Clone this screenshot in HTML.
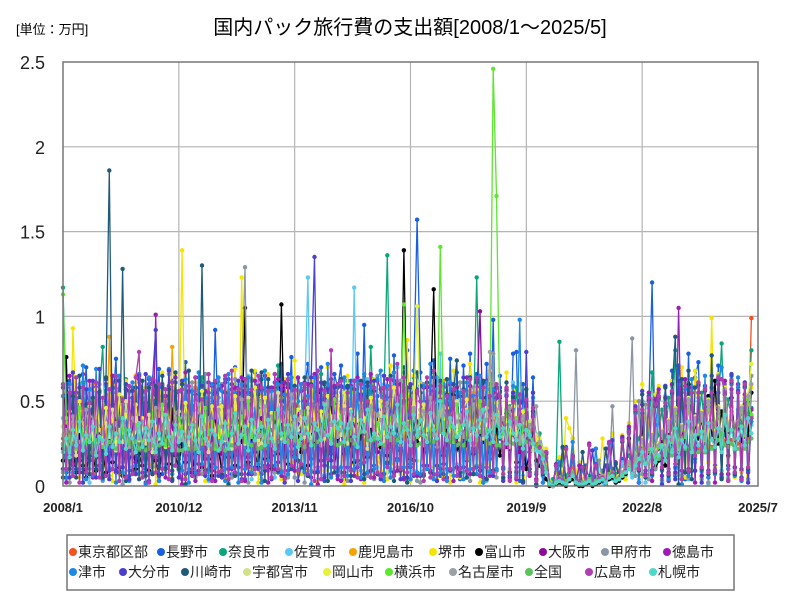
<!DOCTYPE html>
<html><head><meta charset="utf-8">
<style>
body{margin:0;background:#fff;}
svg text{font-family:"Liberation Sans","Noto Sans CJK JP",sans-serif;}
</style></head>
<body>
<svg id="chart" width="800" height="600" viewBox="0 0 800 600" xmlns="http://www.w3.org/2000/svg">
<rect x="0" y="0" width="800" height="600" fill="#fff"/>
<text x="16" y="34" font-size="13">[単位：万円]</text>
<text x="410" y="34" font-size="20" text-anchor="middle">国内パック旅行費の支出額[2008/1～2025/5]</text>
<g id="grid"></g>
<g id="series"></g>
<rect x="63" y="62" width="695" height="424" fill="none" stroke="#777" stroke-width="1.5"/>
<g id="axes"></g>
<rect x="67" y="535" width="667" height="55" fill="#fff" stroke="#777" stroke-width="1.5"/>
<g id="legend"></g>
</svg>
<script>
const UNIT = 0.01; // values below are in 0.01万円 (100円)
const yTicks = [0, 0.5, 1, 1.5, 2, 2.5];
const yTickLabels = ["0", "0.5", "1", "1.5", "2", "2.5"];
const xTickMonths = [0, 35, 70, 105, 140, 175, 210];
const xTickLabels = ["2008/1", "2010/12", "2013/11", "2016/10", "2019/9", "2022/8", "2025/7"];
const seriesNames = ["東京都区部","長野市","奈良市","佐賀市","鹿児島市","堺市","富山市","大阪市","甲府市","徳島市","津市","大分市","川崎市","宇都宮市","岡山市","横浜市","名古屋市","全国","広島市","札幌市"];
const seriesColors = ["#f4511e","#1a5fe0","#0aa67a","#5bc8f5","#f5a300","#f5e400","#000000","#8b0a9a","#8a96a3","#9b1fb5","#1e88e5","#4a3fcf","#1f5a7a","#d4e08a","#e8f03a","#5ce62e","#9aa0a6","#5cc25c","#b03fb0","#4fd8c8"];

const tokyo = [28,31,25,33,30,27,35,40,29,26,30,24, 27,30,26,32,29,25,34,38,28,25,29,23, 26,29,27,31,28,26,33,37,27,24,28,25, 25,28,22,24,27,26,32,36,28,25,27,24, 27,30,26,31,29,27,34,39,28,26,29,25, 28,31,27,33,30,28,35,41,29,27,30,26, 29,30,28,32,31,28,36,42,30,27,31,26, 30,32,29,34,31,29,37,43,31,28,32,27, 29,31,28,33,32,30,36,42,30,28,31,26, 30,33,29,35,32,30,38,44,31,29,33,27, 29,32,28,34,31,29,37,43,30,28,32,26, 28,31,27,33,30,28,36,41,29,27,30,25, 24,22,12,2,1,4,8,6,5,9,11,4, 3,2,5,4,2,3,6,7,3,8,10,6, 5,7,9,10,8,11,14,18,15,17,20,14, 16,18,20,22,19,21,25,30,24,23,26,20, 22,24,21,26,23,25,29,33,26,24,27,22, 25,27,24,28,99];
const nagano = [35,8,62,12,51,5,45,70,18,60,10,43, 15,57,9,48,75,11,40,60,6,52,17,66, 44,10,63,8,24,69,7,48,19,62,12,55, 30,73,8,41,6,57,64,9,45,13,92,31, 11,63,36,7,70,18,59,4,55,9,67,46, 63,12,49,5,61,8,72,17,35,76,5,40, 9,58,72,16,64,11,70,3,47,19,66,58, 71,4,55,62,10,78,13,95,7,59,12,53, 8,65,31,9,77,16,62,5,80,13,68,157, 67,12,50,9,74,61,6,58,10,75,22,67, 4,71,15,78,7,66,20,2,72,16,98,9, 65,11,56,9,78,79,3,60,13,8,64,7, 20,6,9,1,0,2,15,4,23,6,28,2, 1,0,12,3,1,22,4,3,2,25,6,3, 4,16,8,32,9,45,2,50,18,46,120,11, 45,3,59,10,68,6,71,55,4,78,9,64, 73,6,48,2,62,12,71,5,57,7,65,11, 58,9,52,4,46];
const nara = [117,45,28,52,33,20,61,38,24,47,30,55, 82,26,40,19,58,35,29,63,22,44,37,31, 27,49,33,60,21,41,36,24,57,30,45,19, 38,23,55,31,42,27,64,20,48,35,29,52, 24,46,30,39,21,58,33,44,26,62,37,28, 50,32,25,47,36,71,22,40,30,55,27,43, 31,57,38,24,49,29,66,35,43,21,52,34, 45,27,62,33,40,25,55,37,29,82,32,41, 28,53,136,30,44,26,59,38,47,23,64,35, 42,30,49,25,67,36,33,58,27,44,39,21, 34,61,28,45,37,123,30,52,24,41,48,32, 55,26,39,47,31,58,23,42,35,29,44,30, 31,22,14,2,4,8,85,12,6,10,14,5, 3,2,4,6,3,5,8,9,4,12,10,7, 9,12,15,18,10,22,28,35,20,31,67,25, 30,45,26,52,33,80,28,49,37,60,31,42, 38,55,29,47,62,35,44,84,30,51,40,33, 45,36,58,42,80];
const saga = [40,4,53,25,9,60,8,48,2,56,12,45, 6,58,11,40,9,64,14,3,55,11,49,7, 52,6,47,12,60,3,57,13,50,5,61,9, 4,49,16,58,5,46,11,61,3,47,6,58, 13,55,2,48,60,7,51,12,65,4,46,14, 48,10,55,12,5,58,17,60,6,54,11,63, 9,51,123,13,46,4,55,7,49,11,58,7, 55,10,50,6,117,12,59,5,63,8,53,11, 4,60,8,52,7,70,11,56,3,47,9,66, 61,9,52,8,55,3,78,9,50,8,45,13, 12,57,7,65,8,51,6,60,3,41,8,54, 40,5,44,10,61,7,49,6,48,13,52,8, 25,2,16,1,0,11,3,2,21,4,15,2, 1,10,1,2,0,1,13,2,1,23,4,2, 3,14,6,28,5,30,4,38,2,46,10,31, 45,2,53,5,48,10,56,7,51,4,59,14, 50,8,47,1,54,8,62,9,46,5,55,10, 45,3,52,9,36];
const kagoshima = [25,40,18,55,30,22,48,35,16,60,27,44, 33,20,88,26,45,19,52,31,24,38,65,22, 41,28,35,50,21,44,30,57,25,82,33,19, 27,46,22,39,58,30,24,51,36,20,43,29, 48,25,37,21,55,33,42,18,62,28,35,50, 22,40,31,57,26,45,19,38,53,30,24,47, 36,23,49,30,41,64,27,35,20,52,33,28, 44,29,21,56,35,27,48,24,39,60,26,37, 25,51,38,22,46,31,59,28,41,19,54,34, 39,27,45,33,21,50,36,62,24,43,30,26, 30,48,25,40,55,22,37,45,28,34,61,23, 42,26,35,21,49,31,27,44,38,20,33,29, 22,18,8,1,0,2,4,3,2,6,7,3, 2,1,3,4,2,3,5,6,2,7,8,4, 5,8,10,13,9,15,20,26,17,22,30,19, 24,32,20,38,27,45,23,35,30,52,26,40, 33,42,28,50,36,31,47,25,58,35,44,29, 38,46,30,52,42];
const sakai = [10,45,2,93,38,5,56,13,50,8,35,57, 12,48,55,3,59,7,36,62,4,40,9,51, 6,58,13,64,1,39,67,10,48,5,66,24, 139,5,47,9,61,8,52,3,57,16,52,10, 41,4,56,15,69,7,123,3,55,10,68,2, 53,9,66,11,58,30,4,63,55,14,74,8, 7,52,9,62,46,3,61,9,70,6,54,17, 45,1,65,13,58,7,49,2,60,6,63,17, 9,56,4,71,13,60,7,48,86,3,65,15, 60,7,59,11,68,4,62,6,55,2,68,9, 5,64,16,72,10,51,2,57,13,68,6,51, 53,8,67,9,56,2,60,5,46,14,41,4, 27,10,22,3,1,4,17,5,40,34,28,8, 14,3,6,25,2,14,7,28,3,9,31,5, 8,30,4,37,11,50,6,60,22,40,3,54, 59,11,45,8,62,15,58,70,5,63,10,68, 54,5,58,14,99,11,66,7,58,17,62,5, 60,8,53,6,58];
const toyama = [15,76,10,22,8,30,12,5,25,18,9,35, 20,8,28,14,40,11,6,33,17,24,10,19, 12,27,9,36,15,7,22,30,13,45,18,10, 25,14,33,8,19,41,11,28,16,6,38,21, 9,31,17,24,12,38,26,105,14,29,20,11, 34,16,27,10,44,19,107,23,13,37,18,29, 20,40,12,30,25,55,15,33,21,46,11,28, 31,19,42,24,14,36,28,50,17,33,22,39, 23,45,18,34,27,60,21,139,30,16,40,26, 37,20,32,49,116,25,43,18,36,28,54,22, 29,41,24,35,19,47,31,26,52,20,38,33, 18,30,43,22,37,14,33,25,10,20,31,15, 12,8,4,0,0,1,2,1,0,3,4,1, 0,0,1,2,0,1,2,3,1,4,5,2, 3,5,7,28,8,12,16,35,14,18,22,10, 15,26,12,30,20,45,18,33,25,60,22,36, 28,40,20,53,30,62,25,44,33,18,52,30, 36,25,48,30,55];
const osaka = [22,35,18,41,27,15,38,25,46,20,31,17, 29,16,43,24,33,19,50,28,21,37,14,40, 26,45,20,32,17,39,28,53,23,35,19,42, 33,18,37,25,48,21,30,16,44,27,36,23, 19,41,26,34,22,55,29,38,17,46,25,31, 40,24,32,18,47,28,36,22,58,30,20,43, 27,50,21,39,30,44,25,60,33,19,48,35, 34,22,46,28,38,24,52,31,42,26,36,20, 45,29,35,23,49,33,27,56,30,40,22,38, 31,43,25,52,36,28,62,34,24,47,39,27, 38,26,44,32,21,50,103,29,41,35,24,46, 28,37,23,45,31,40,20,33,27,36,22,30, 20,17,9,1,0,2,4,3,2,5,7,2, 1,1,2,3,1,2,4,5,2,6,7,3, 4,7,9,12,8,14,19,24,16,21,28,17, 22,30,18,36,25,42,21,33,28,48,24,37, 30,40,26,47,34,28,43,23,54,32,41,27, 35,44,29,50,40];
const kofu = [8,60,2,55,10,65,2,55,10,58,5,60, 3,54,6,59,12,64,1,57,9,56,8,61, 55,8,57,11,62,5,53,8,66,9,53,10, 4,59,10,61,5,56,7,66,8,52,3,59, 60,10,54,5,63,7,58,129,2,63,7,51, 4,56,9,58,8,54,9,61,5,51,5,56, 57,2,64,9,58,11,53,5,60,7,56,10, 8,62,3,55,9,60,9,63,6,58,4,65, 55,5,57,10,59,11,62,4,56,4,58,3, 2,60,10,56,6,57,11,55,4,59,10,55, 61,8,56,3,58,12,57,3,60,9,78,5, 46,4,45,4,47,9,48,2,46,12,48,8, 16,2,17,1,0,12,3,22,1,4,15,80, 2,11,3,24,1,2,15,4,2,6,47,3, 5,28,10,34,87,6,50,7,48,4,51,10, 55,4,51,10,59,7,54,6,61,5,57,9, 52,4,57,2,55,10,65,6,60,4,63,8, 57,5,61,4,65];
const tokushima = [58,2,65,13,55,8,66,10,62,5,58,12, 5,60,9,65,8,51,11,57,4,58,7,63, 56,2,60,7,101,3,60,5,59,9,64,11, 1,67,8,56,3,64,12,56,10,59,3,57, 59,6,63,10,58,11,64,3,55,7,62,10, 7,65,2,58,10,63,6,61,9,56,9,64, 56,10,60,5,66,1,57,12,58,7,59,4, 3,58,11,59,6,64,4,53,8,66,5,62, 57,7,63,5,62,9,60,4,58,11,55,6, 6,58,12,59,7,55,10,59,5,60,3,58, 53,11,64,7,53,11,58,5,62,6,55,10, 52,10,57,5,53,4,50,11,47,6,41,4, 23,8,20,2,0,13,5,4,22,6,18,3, 12,1,3,25,2,13,6,5,22,7,8,14, 6,29,11,35,10,47,2,48,9,55,3,51, 57,6,52,3,60,8,105,9,63,8,58,2, 55,6,59,5,58,2,60,7,62,7,57,11, 60,10,54,8,45];
const tsu = [53,5,60,8,52,10,71,4,57,6,69,18, 4,59,10,55,2,65,8,46,3,61,12,66, 45,1,64,8,50,3,59,11,69,7,56,17, 9,63,2,56,8,67,13,52,4,60,11,64, 56,3,66,11,55,2,60,10,64,8,45,13, 2,68,15,56,12,60,8,54,7,64,17,50, 60,8,53,1,64,9,51,6,72,5,55,9, 11,64,6,58,10,62,5,66,8,59,10,63, 68,3,59,5,67,15,53,11,42,4,68,8, 7,59,10,72,4,64,8,60,3,61,6,56, 55,4,61,10,53,7,65,2,61,8,57,10, 42,10,54,8,59,6,98,3,57,10,52,1, 25,2,11,1,0,2,14,3,22,5,26,2, 1,10,2,3,1,22,3,4,1,25,6,3, 4,26,9,31,7,43,2,43,15,50,6,36, 51,9,47,4,54,11,60,1,57,6,63,16, 59,9,65,5,53,7,62,70,52,10,60,6, 64,3,58,9,38];
const oita = [10,58,5,67,10,58,2,57,15,62,5,69, 7,63,4,58,9,62,11,60,4,56,7,65, 8,66,3,61,92,6,58,10,68,3,61,5, 62,7,56,10,64,9,59,6,61,4,55,6, 5,61,10,57,8,62,4,63,7,53,11,59, 57,9,58,4,66,14,57,2,66,10,59,3, 12,61,6,64,135,8,61,5,57,15,58,6, 59,6,58,3,62,11,54,7,59,5,62,7, 4,65,13,52,8,60,4,67,5,60,6,57, 55,7,58,8,56,3,62,13,54,9,60,11, 6,64,5,59,10,63,9,61,4,57,6,52, 58,3,53,6,55,11,50,2,79,8,55,0, 24,9,19,1,0,12,5,23,2,6,17,3, 1,11,2,4,21,2,5,4,12,6,27,3, 5,28,10,33,9,46,10,56,7,53,9,48, 53,1,59,8,56,4,62,4,59,10,55,9, 61,2,57,9,65,9,55,5,56,3,66,8, 56,5,61,2,41];
const kawasaki = [5,60,10,53,5,65,8,48,7,52,10,56, 5,64,186,10,62,8,128,3,56,9,58,4, 62,6,58,7,59,11,65,10,57,4,67,10, 60,1,68,6,54,13,130,9,55,9,61,8, 7,55,1,60,6,54,7,59,12,68,10,54, 67,3,63,12,58,9,51,5,60,11,59,15, 11,64,6,60,8,56,15,61,3,63,8,59, 63,8,59,6,57,15,62,4,61,9,56,7, 6,58,14,65,3,60,9,70,2,58,15,67, 59,6,61,8,64,12,53,7,63,10,56,74, 8,57,5,64,7,61,6,62,4,60,9,58, 56,5,61,8,52,8,49,3,57,10,44,1, 22,7,19,1,0,12,4,23,2,5,17,2, 1,20,2,3,1,12,4,3,22,5,6,13, 4,26,8,32,8,44,9,54,5,51,7,47, 52,10,58,6,55,88,1,63,8,68,4,58, 60,10,56,7,77,8,63,4,54,12,61,7, 55,4,59,10,40];
const utsunomiya = [30,22,38,26,18,42,33,25,47,20,35,28, 24,37,29,45,21,33,26,50,31,19,40,27, 36,25,42,20,34,28,46,23,38,31,22,44, 28,40,23,35,49,26,32,41,20,37,29,46, 41,27,34,22,47,30,38,25,52,29,35,23, 25,44,31,39,24,55,28,36,43,22,50,33, 38,29,46,27,35,41,24,49,31,37,26,53, 30,47,25,40,33,28,56,34,22,45,38,29, 43,26,37,51,29,39,24,47,35,27,58,31, 34,42,28,36,49,23,44,31,40,26,37,50, 27,39,45,30,24,52,33,28,46,35,29,41, 36,28,34,23,42,30,47,25,32,38,21,30, 24,19,10,1,0,2,4,3,2,5,6,3, 2,1,2,4,1,2,4,5,2,6,7,3, 5,7,10,13,9,15,21,25,16,22,28,18, 23,31,19,37,26,43,22,34,29,49,25,38, 31,41,27,48,35,29,44,25,55,33,42,28, 36,45,30,51,40];
const okayama = [35,27,44,31,22,50,37,29,41,25,57,33, 28,46,34,39,26,54,30,42,36,23,48,31, 40,30,26,52,35,28,45,38,24,60,32,27, 32,49,37,28,43,30,56,25,39,47,33,29, 47,31,40,26,53,34,29,44,36,30,58,27, 30,52,35,43,28,37,48,30,56,33,39,45, 43,34,29,50,38,33,44,28,53,41,30,47, 36,55,30,45,39,32,49,40,27,52,43,34, 50,31,42,36,58,44,29,52,38,33,47,106, 39,48,33,42,35,29,53,37,46,32,40,30, 33,45,51,35,29,57,38,33,42,40,34,49, 41,33,39,28,47,35,26,44,37,31,39,27, 28,22,12,2,0,3,5,4,2,6,8,3, 2,1,3,4,2,3,5,6,2,7,8,4, 6,8,11,14,10,16,23,28,19,24,31,20, 25,33,21,39,28,46,24,36,31,52,27,41, 33,44,29,51,37,31,47,27,58,35,45,30, 38,47,32,54,72];
const yokohama = [113,40,28,35,22,46,30,25,38,20,33,27, 31,24,39,28,45,21,34,27,42,23,36,29, 26,35,22,43,29,31,48,24,37,28,33,40, 34,27,41,23,36,30,25,46,31,38,22,35, 23,38,30,45,27,34,41,26,50,29,36,32, 37,29,35,24,43,31,52,27,38,33,45,26, 30,44,27,39,34,48,29,36,42,25,51,33, 41,26,36,31,55,28,44,33,39,46,30,37, 28,47,33,40,26,52,35,107,31,38,44,29, 45,30,38,27,49,34,141,31,40,36,26,48, 33,41,29,46,35,28,50,37,33,42,246,171, 39,31,44,27,35,40,25,33,45,29,37,22, 25,20,10,1,0,2,4,3,2,6,7,2, 2,1,2,4,1,2,4,5,2,6,7,3, 5,7,10,13,9,15,21,26,16,22,28,18, 23,31,19,37,26,43,22,34,29,49,25,38, 31,41,27,48,35,29,44,25,55,33,42,28, 36,45,30,51,42];
const nagoya = [25,33,20,41,28,36,22,45,30,19,38,27, 32,21,44,29,37,25,48,31,23,40,34,28, 38,29,33,24,46,30,27,50,35,22,43,31, 27,42,31,37,23,48,34,29,40,33,26,45, 35,28,44,30,39,25,51,32,28,46,37,29, 30,47,27,41,35,29,44,38,31,54,28,39, 44,31,38,48,27,42,33,30,50,36,41,29, 33,45,30,37,52,31,40,35,28,47,33,42, 39,34,49,28,41,36,31,53,37,29,46,35, 31,44,36,52,30,40,33,47,35,28,43,38, 42,29,37,33,48,35,44,30,39,79,31,45, 35,40,28,46,33,38,26,41,30,36,25,47, 26,20,11,2,0,3,5,4,2,6,8,3, 2,1,3,4,1,3,5,6,2,7,8,4, 5,8,11,14,10,16,22,27,18,24,30,19, 24,32,20,38,27,45,23,35,30,51,26,40, 32,43,28,50,36,30,46,26,57,34,44,29, 37,46,31,53,60];
const national = [24,22,27,25,23,26,30,34,26,25,27,23, 23,21,26,24,22,25,29,33,25,24,26,22, 22,21,25,24,22,24,28,32,25,23,25,21, 21,20,22,21,22,23,27,31,24,22,24,21, 22,21,25,24,23,25,29,33,25,24,26,22, 23,22,26,25,24,26,30,34,26,25,27,23, 24,23,27,26,24,26,31,35,27,25,27,24, 25,24,28,27,25,27,32,36,27,26,28,24, 25,24,28,27,25,27,32,36,27,26,28,24, 25,24,28,27,26,27,32,37,28,26,28,24, 25,24,28,27,25,27,32,36,27,25,28,24, 24,23,27,26,25,26,31,35,26,25,27,23, 20,18,10,1,1,2,5,4,3,6,8,3, 2,2,3,4,2,3,5,5,3,7,8,4, 5,6,8,10,8,12,16,20,14,17,20,14, 16,18,18,21,18,21,24,28,22,22,24,19, 20,22,20,25,22,23,27,31,24,23,25,21, 22,24,22,26,28];
const hiroshima = [60,10,55,6,64,2,58,8,49,7,61,5, 52,6,57,10,65,3,51,5,59,7,64,79, 5,56,2,63,8,60,10,57,4,61,12,56, 57,4,59,6,64,7,51,8,66,3,62,8, 9,65,4,68,8,57,3,63,11,57,10,65, 58,11,56,5,66,10,59,4,63,12,57,9, 13,60,7,59,3,68,4,56,16,80,11,60, 62,6,55,9,62,5,60,14,50,5,58,8, 6,58,11,63,6,72,10,64,8,51,7,56, 50,3,64,5,68,7,59,4,53,10,57,6, 10,56,9,63,10,64,6,58,11,53,8,60, 53,7,58,3,50,5,54,10,51,7,46,3, 23,8,20,1,0,12,4,3,22,5,17,3, 2,11,2,24,1,12,4,5,2,26,7,3, 4,27,9,32,8,45,10,45,6,52,8,48, 53,11,49,7,56,13,52,4,59,9,55,18, 61,11,57,8,55,9,64,63,55,3,62,8, 55,4,60,11,40];
const sapporo = [20,28,17,33,24,38,21,30,26,35,18,29, 27,19,35,23,31,26,40,22,33,28,20,37, 23,34,27,38,20,31,25,42,29,21,36,26, 32,22,29,36,27,20,41,28,24,33,30,21, 26,37,22,31,43,25,30,35,21,39,27,33, 35,24,39,28,22,45,31,26,36,29,41,23, 28,40,31,24,37,33,27,48,30,25,38,34, 37,26,34,44,29,23,39,32,45,27,31,28, 25,41,29,35,31,48,26,37,33,24,42,30, 39,30,26,43,33,28,50,31,27,40,35,29, 31,36,44,27,34,30,39,45,29,33,26,42, 29,34,25,38,31,27,36,22,33,30,25,21, 20,16,8,1,0,2,3,2,1,4,6,2, 1,1,2,3,1,2,3,4,2,5,6,3, 4,6,8,10,7,12,16,20,13,17,22,14, 18,24,15,29,20,34,17,27,23,38,20,30, 24,32,21,37,27,23,34,20,42,26,33,22, 28,35,24,40,31];

const seriesValues = [tokyo,nagano,nara,saga,kagoshima,sakai,toyama,osaka,kofu,tokushima,tsu,oita,kawasaki,utsunomiya,okayama,yokohama,nagoya,national,hiroshima,sapporo];
const seriesKeys = ["tokyo","nagano","nara","saga","kagoshima","sakai","toyama","osaka","kofu","tokushima","tsu","oita","kawasaki","utsunomiya","okayama","yokohama","nagoya","national","hiroshima","sapporo"];

const NS = "http://www.w3.org/2000/svg";
const PL = 63, PR = 758, PT = 62, PB = 486;
const X_MAX_MONTHS = 210, Y_MAX = 2.5;
function xScale(m){ return PL + (PR - PL) * m / X_MAX_MONTHS; }
function yScale(v){ return PB - (PB - PT) * v / Y_MAX; }
function mk(tag, attrs, parent){ const e = document.createElementNS(NS, tag); for (const k in attrs) e.setAttribute(k, attrs[k]); parent.appendChild(e); return e; }

const grid = document.getElementById('grid');
const axes = document.getElementById('axes');
yTicks.forEach((v, i) => {
  const y = yScale(v);
  if (v > 0 && v < Y_MAX) {
    const g = mk('line', {x1: PL, x2: PR, y1: y, y2: y, stroke: '#b4b4b4', 'stroke-width': 1.2}, grid);
    
    
  }
  const t = mk('text', {x: 45, y: y + 7, 'font-size': 18, 'text-anchor': 'end', fill: '#222'}, axes);
  t.textContent = yTickLabels[i];
  
  
});
xTickMonths.forEach((m, i) => {
  const x = xScale(m);
  if (m > 0 && m < X_MAX_MONTHS) {
    const g = mk('line', {x1: x, x2: x, y1: PT, y2: PB, stroke: '#b4b4b4', 'stroke-width': 1.2}, grid);
    
    
  }
  const t = mk('text', {x: x, y: 512, 'font-size': 13, 'font-weight': 'bold', 'text-anchor': 'middle', fill: '#222'}, axes);
  t.textContent = xTickLabels[i];
  
  
});

const sg = document.getElementById('series');
seriesValues.forEach((vals, si) => {
  const g = mk('g', {}, sg);
  
  
  const pts = vals.map((v, i) => xScale(i).toFixed(1) + ',' + yScale(v * UNIT).toFixed(1)).join(' ');
  const line = mk('polyline', {points: pts, fill: 'none', stroke: seriesColors[si], 'stroke-width': 1.3}, g);
  
  
  vals.forEach((v, i) => {
    const c = mk('circle', {cx: xScale(i).toFixed(1), cy: yScale(v * UNIT).toFixed(1), r: 2.2, fill: seriesColors[si]}, g);
    
    
  });
});

const legendX = [[76,164,226,292,356,436,482,546,608,670],[76,126,188,250,330,392,456,532,592,656]];
const lg = document.getElementById('legend');
seriesNames.forEach((name, i) => {
  const row = i < 10 ? 0 : 1, col = i % 10;
  const x = legendX[row][col], y = row === 0 ? 552 : 572;
  const g = mk('g', {}, lg);
  
  
  mk('circle', {cx: x - 3, cy: y, r: 4, fill: seriesColors[i]}, g);
  const t = mk('text', {x: x + 2, y: y + 5, 'font-size': 14, fill: '#222'}, g);
  t.textContent = name;
});
</script>
</body></html>
